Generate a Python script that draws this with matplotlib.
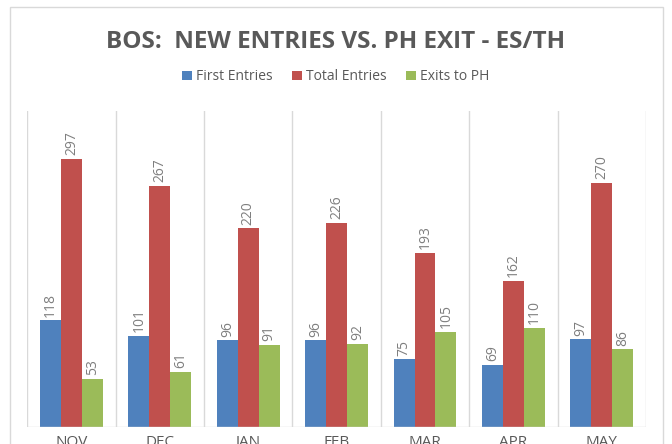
import numpy as np
import matplotlib.pyplot as plt
from matplotlib.patches import Rectangle

months = ["NOV", "DEC", "JAN", "FEB", "MAR", "APR", "MAY"]
first_entries = [118, 101, 96, 96, 75, 69, 97]
total_entries = [297, 267, 220, 226, 193, 162, 270]
exits_to_ph = [53, 61, 91, 92, 105, 110, 86]

series = [
    ("First Entries", first_entries, "#4F81BD"),
    ("Total Entries", total_entries, "#C0504D"),
    ("Exits to PH", exits_to_ph, "#9BBB59"),
]

txt = "#595959"
plt.rcParams['font.family'] = ['Open Sans', 'DejaVu Sans']

fig = plt.figure(figsize=(6.72, 4.44), dpi=100)
# chart border
fig.patches.append(Rectangle((10/672, -0.1), 653/672, 1.1 - 7/444, transform=fig.transFigure,
                             fill=False, edgecolor="#D9D9D9", linewidth=1))

ax = fig.add_axes([0.0406, 0.0383, 0.9207, 0.7124])
x = np.arange(len(months))
w = 0.237
for i, (name, vals, col) in enumerate(series):
    pos = x + (i - 1) * w
    ax.bar(pos, vals, width=w, color=col, label=name, zorder=2)
    for px, v in zip(pos, vals):
        ax.text(px, v + 4, str(v), rotation=90, ha="center", va="bottom",
                fontsize=10, color="#7F7F7F")

ax.set_xlim(-0.5, len(months) - 0.5)
ax.set_ylim(0, 350)
for b in np.arange(-0.5, len(months), 1):
    ax.axvline(b, color="#D9D9D9", linewidth=1, zorder=1)
ax.axhline(0, color="#D9D9D9", linewidth=1, zorder=3)
for s in ax.spines.values():
    s.set_visible(False)
ax.set_yticks([])
ax.set_xticks(x)
ax.set_xticklabels(months, fontsize=11, color=txt)
ax.tick_params(axis="x", length=0, pad=6)

fig.text(0.5, 1 - 42/444, "BOS:  NEW ENTRIES VS. PH EXIT - ES/TH", ha="center", va="center",
         fontsize=17.5, fontweight="bold", color=txt)
fig.legend(loc="center", bbox_to_anchor=(0.5, 1 - 77/444), ncol=3, frameon=False,
           fontsize=10, labelcolor=txt, handlelength=0.7, handleheight=0.7,
           handletextpad=0.3, columnspacing=1.4)

fig.savefig("out.png", dpi=100)
